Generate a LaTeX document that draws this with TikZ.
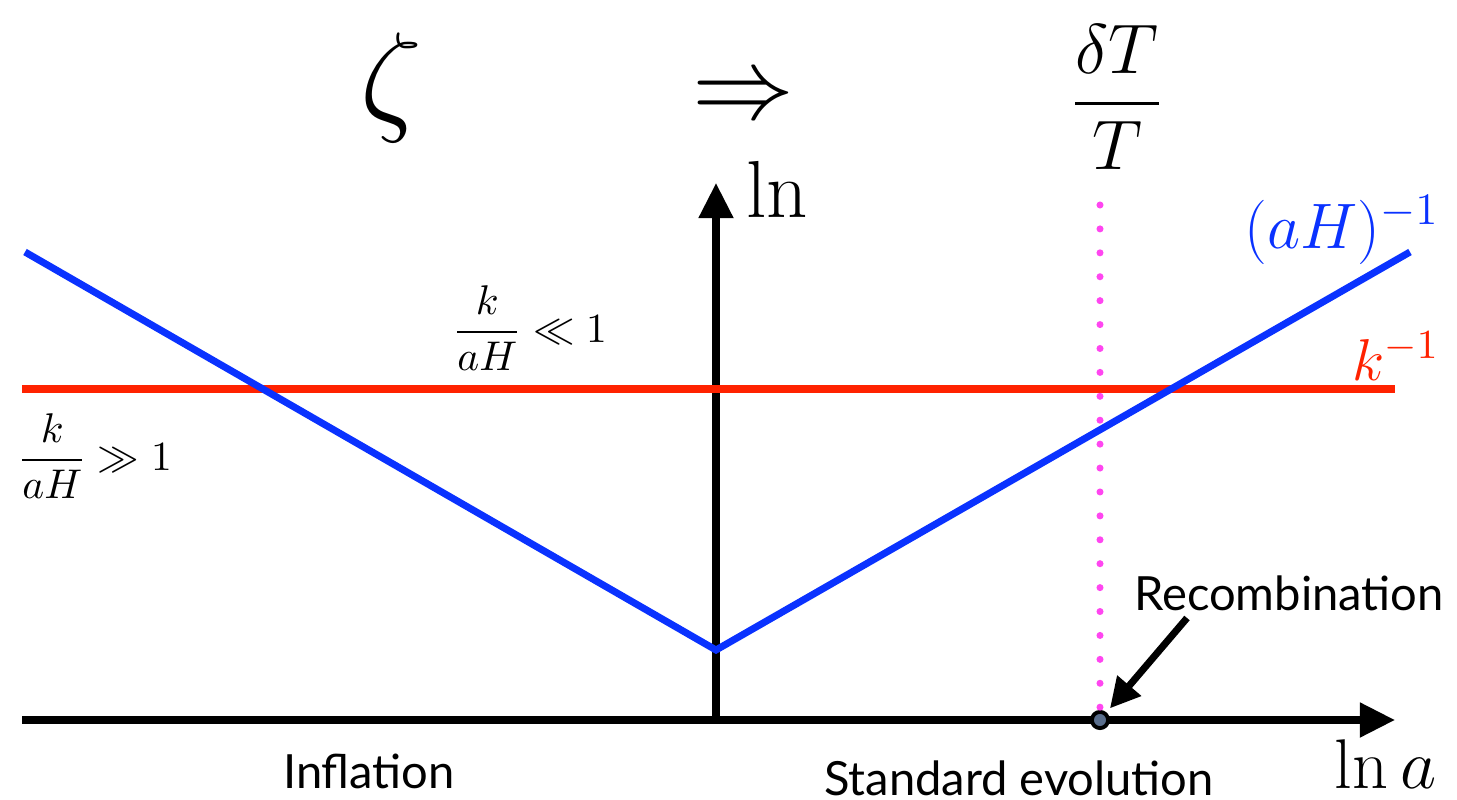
\RequirePackage{fix-cm}
\documentclass[tikz,border=0pt]{standalone}
\usepackage{amsmath}
\usepackage{amssymb}
\usepackage{fontspec}
\setsansfont{Lato}
\usetikzlibrary{
  arrows.meta,
  positioning,
  calc
}
\definecolor{azulhorizonte}{RGB}{10,50,255}
\definecolor{vermelhoescala}{RGB}{255,34,0}
\definecolor{magentarec}{RGB}{255,70,240}
\definecolor{cinzarec}{RGB}{90,110,140}

\begin{document}
\begin{tikzpicture}[
      x=0.01cm, y=-0.01cm,
      eixo/.style={-{Triangle[length=10pt,width=9.5pt]}, line width=2pt, black},
      horizonte/.style={line width=2pt, azulhorizonte, line join=miter},
      escala/.style={line width=2pt, vermelhoescala},
      pontilhado/.style={line width=2pt, magentarec, line cap=round, dash pattern=on 0pt off 6.8pt},
      ponto/.style={circle, draw=black, line width=1.1pt, fill=cinzarec, inner sep=0pt, minimum size=4.6pt},
      seta/.style={-{Triangle[length=8.5pt,width=8.5pt]}, line width=2pt, black, shorten >=1.5pt},
      rotulo/.style={inner sep=0pt, font=\fontsize{13.4}{16}\selectfont\sffamily},
      grande/.style={inner sep=0pt, font=\fontsize{30}{36}\selectfont},
      medio/.style={inner sep=0pt, font=\fontsize{20}{24}\selectfont},
      fracao/.style={inner sep=0pt, font=\fontsize{11.8}{14}\selectfont}
  ]
    \useasboundingbox (0,0) rectangle (1457,800);

    % Eixos
    \coordinate (origem) at (22,720);
    \coordinate (fimx) at (1395,720);
    \coordinate (base) at (716,720);
    \coordinate (topo) at (716,183);
    \draw [eixo] (origem) -- (fimx);
    \draw [eixo] (base) -- (topo);

    % Escala k^{-1} e horizonte (aH)^{-1}
    \coordinate (kesq) at (22,389);
    \coordinate (kdir) at (1395,389);
    \coordinate (hesq) at (25,252);
    \coordinate (vale) at (716,650);
    \coordinate (hdir) at (1410,252);
    \draw [escala] (kesq) -- (kdir);
    \draw [horizonte] (hesq) -- (vale) -- (hdir);

    % Recombinacao
    \coordinate (alto) at (1100,205);
    \node [ponto] (rec) at (1100,720) {};
    \draw [pontilhado] (alto) -- (rec.north);
    \node [rotulo, anchor=base] (recomb) at (1289,610) {Recombination};
    \coordinate (cauda) at (1187,618);
    \draw [seta] (cauda) -- (rec);

    % Textos
    \node [grande, font=\fontsize{35}{42}\selectfont] (zeta) at (391,88) {$\zeta$};
    \node [grande, font=\fontsize{29}{34}\selectfont] (implica) at (743,100) {$\Rightarrow$};
    \node [medio] (flut) at (1117,97) {$\dfrac{\delta T}{T}$};
    \node [medio, anchor=base west, font=\fontsize{23}{28}\selectfont] (lnv) at (746,217) {$\ln$};
    \node [medio, anchor=base east] (lna) at (1437,788) {$\ln a$};
    \node [medio, anchor=base east, text=azulhorizonte, font=\fontsize{18.3}{22}\selectfont] (aHinv) at (1440,248) {$(aH)^{-1}$};
    \node [medio, anchor=base east, text=vermelhoescala, font=\fontsize{16.8}{20}\selectfont] (kinv) at (1440,380) {$k^{-1}$};
    \node [fracao] (menor) at (530,328) {$\dfrac{k}{aH}\ll 1$};
    \node [fracao] (maior) at (95,456) {$\dfrac{k}{aH}\gg 1$};
    \node [rotulo, anchor=base] (infl) at (369,788) {Inflation};
    \node [rotulo, anchor=base] (padrao) at (1019,795) {Standard evolution};
  \end{tikzpicture}
\end{document}
